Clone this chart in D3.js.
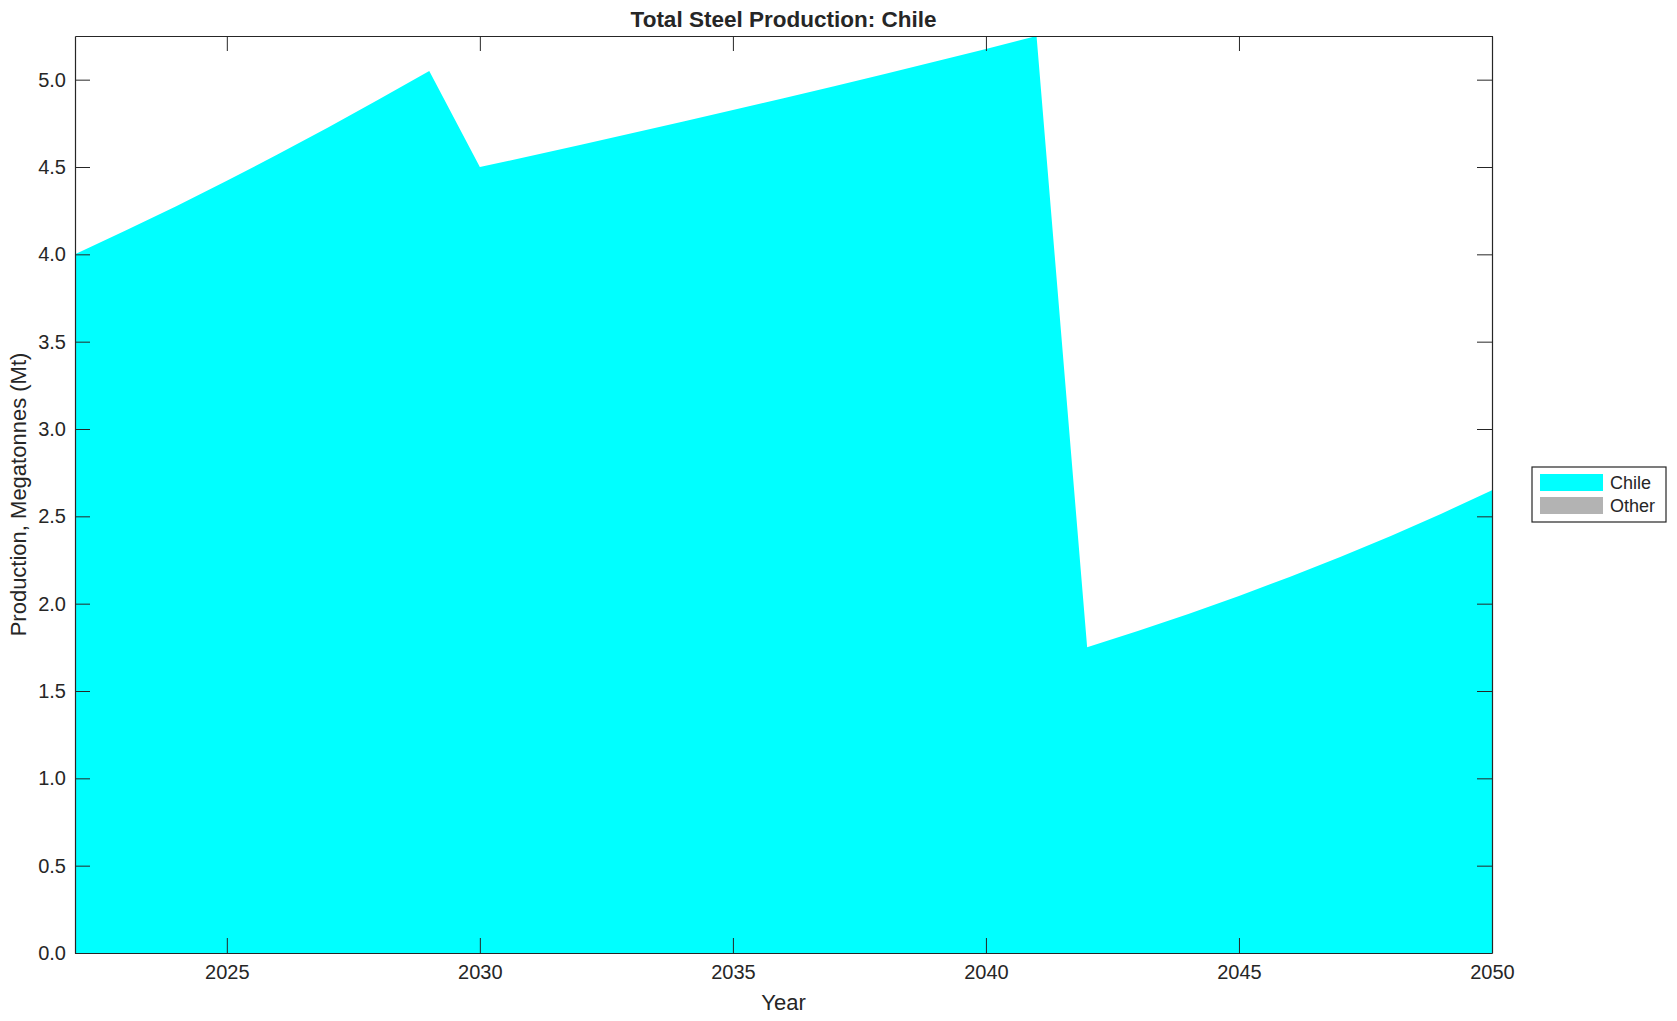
<!DOCTYPE html>
<html>
<head>
<meta charset="utf-8">
<script src="https://cdn.jsdelivr.net/npm/d3@7"></script>
<style>
  body { margin: 0; background: #fff; }
  svg text { font-family: "Liberation Sans", Arial, Helvetica, sans-serif; fill: #262626; }
</style>
</head>
<body>
<div id="chart"></div>
<script>
// values
var years = [2022, 2023, 2024, 2025, 2026, 2027, 2028, 2029, 2030, 2031, 2032, 2033, 2034, 2035,
             2036, 2037, 2038, 2039, 2040, 2041, 2042, 2043, 2044, 2045, 2046, 2047, 2048, 2049, 2050];
var chile = [4.000, 4.136, 4.276, 4.421, 4.571, 4.726, 4.886, 5.050,
             4.500, 4.563, 4.628, 4.693, 4.759, 4.826, 4.894, 4.963, 5.033, 5.104, 5.176, 5.250,
             1.750, 1.843, 1.941, 2.044, 2.153, 2.267, 2.388, 2.515, 2.650];
var other = [0, 0, 0, 0, 0, 0, 0, 0, 0, 0, 0, 0, 0, 0,
             0, 0, 0, 0, 0, 0, 0, 0, 0, 0, 0, 0, 0, 0, 0];
var seriesNames = ["Chile", "Other"];
var seriesColors = ["#00ffff", "#b3b3b3"];
var xTicks = [2025, 2030, 2035, 2040, 2045, 2050];
var yTicks = [0, 0.5, 1, 1.5, 2, 2.5, 3, 3.5, 4, 4.5, 5];

var W = 1677, H = 1021;
var margin = { top: 36, right: 185, bottom: 68, left: 75 };
var width = W - margin.left - margin.right;
var height = H - margin.top - margin.bottom;

var svg = d3.select("#chart").append("svg")
    .attr("width", W)
    .attr("height", H);
var g = svg.append("g")
    .attr("transform", `translate(${margin.left}, ${margin.top})`);

// build rows for the stack
var rows = years.map((y, i) => ({ year: y, Chile: chile[i], Other: other[i] }));
var stacked = d3.stack().keys(seriesNames)(rows);

var x = d3.scaleLinear()
    .domain(d3.extent(years))
    .range([0, width]);
var y = d3.scaleLinear()
    .domain([0, d3.max(stacked[stacked.length - 1], d => d[1])])
    .range([height, 0]);

var color = d3.scaleOrdinal().domain(seriesNames).range(seriesColors);

var area = d3.area()
    .x(d => x(d.data.year))
    .y0(d => y(d[0]))
    .y1(d => y(d[1]));

g.selectAll(".layer")
    .data(stacked)
    .enter().append("path")
    .attr("class", "layer")
    .attr("fill", d => color(d.key))
    .attr("d", area);

// axes, ticks pointing inward on all four sides
var tick = 15;
function styleAxis(sel) {
    sel.selectAll("path").attr("stroke", "#262626").attr("stroke-width", 1.2);
    sel.selectAll("line").attr("stroke", "#262626").attr("stroke-width", 1);
    sel.selectAll("text").style("font-size", "20px").attr("fill", "#262626");
}

g.append("g")
    .attr("transform", `translate(0, ${height})`)
    .call(d3.axisBottom(x).tickValues(xTicks).tickFormat(d3.format("d"))
        .tickSizeInner(-tick).tickSizeOuter(0).tickPadding(12))
    .call(styleAxis);

g.append("g")
    .call(d3.axisTop(x).tickValues(xTicks).tickFormat("")
        .tickSizeInner(-tick).tickSizeOuter(0))
    .call(styleAxis);

g.append("g")
    .call(d3.axisLeft(y).tickValues(yTicks).tickFormat(d3.format(".1f"))
        .tickSizeInner(-tick).tickSizeOuter(0).tickPadding(9))
    .call(styleAxis);

g.append("g")
    .attr("transform", `translate(${width}, 0)`)
    .call(d3.axisRight(y).tickValues(yTicks).tickFormat("")
        .tickSizeInner(-tick).tickSizeOuter(0))
    .call(styleAxis);

//chart title
svg.append("text")
    .attr("x", margin.left + width / 2)
    .attr("y", 27)
    .attr("text-anchor", "middle")
    .style("font-size", "22.5px")
    .style("font-weight", "bold")
    .attr("fill", "#000")
    .text("Total Steel Production: Chile");

//axis labels
svg.append("text")
    .attr("x", margin.left + width / 2)
    .attr("y", 1010)
    .attr("text-anchor", "middle")
    .style("font-size", "22px")
    .text("Year");

svg.append("text")
    .attr("transform", `translate(26, ${margin.top + height / 2}) rotate(-90)`)
    .attr("text-anchor", "middle")
    .style("font-size", "22px")
    .text("Production, Megatonnes (Mt)");

//legend
var legend = svg.append("g")
    .attr("transform", "translate(1532, 467)");
legend.append("rect")
    .attr("width", 134)
    .attr("height", 55)
    .attr("fill", "#fff")
    .attr("stroke", "#262626")
    .attr("stroke-width", 1.2);
var items = legend.selectAll(".item")
    .data(seriesNames)
    .enter().append("g")
    .attr("class", "item")
    .attr("transform", (d, i) => `translate(8, ${7 + i * 23})`);
items.append("rect")
    .attr("width", 63)
    .attr("height", 17)
    .attr("fill", d => color(d));
items.append("text")
    .attr("x", 70)
    .attr("y", 15)
    .style("font-size", "18px")
    .attr("fill", "#000")
    .text(d => d);
</script>
</body>
</html>
